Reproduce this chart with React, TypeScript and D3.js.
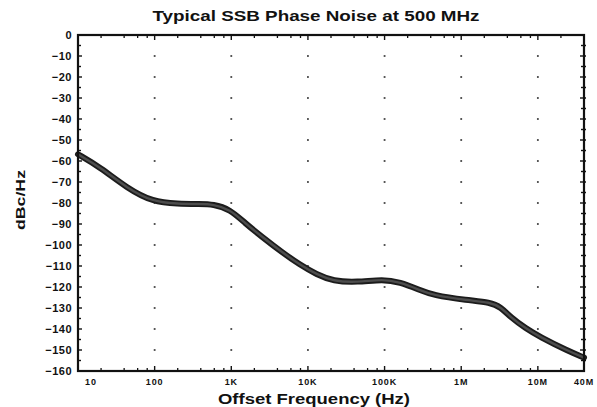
import React from "react";
import * as d3 from "d3";

const W = 597;
const H = 407;

// Phase noise curve
const offsetFreqHz = [10, 19.4, 43.6, 95, 200, 392, 578, 964, 1500, 2600, 4500, 7900, 13000, 21300, 43900, 95900, 160000, 270000, 430000, 1200000, 2390000, 3300000, 4370000, 7000000, 10700000, 24200000, 40000000];
const noiseDbc = [-56.8, -62.9, -72.9, -79.5, -80.4, -80.5, -80.6, -83.0, -89.5, -96.5, -103.2, -109.5, -114.0, -117.2, -117.8, -116.2, -117.8, -121.0, -124.0, -126.3, -127.3, -129.6, -134.3, -139.8, -143.8, -150.3, -153.6];

const xTickValues = [10, 100, 1e3, 1e4, 1e5, 1e6, 1e7, 4e7];
const xTickLabels = ["10", "100", "1K", "10K", "100K", "1M", "10M", "40M"];
const yTickValues = [0, -10, -20, -30, -40, -50, -60, -70, -80, -90, -100, -110, -120, -130, -140, -150, -160];
const gridDecades = [100, 1e3, 1e4, 1e5, 1e6, 1e7];

const TITLE = "Typical SSB Phase Noise at 500 MHz";
const X_TITLE = "Offset Frequency (Hz)";
const Y_TITLE = "dBc/Hz";

export default function App() {
  const left = 78, right = 584, top = 35, bottom = 371;
  const x = d3.scaleLog().domain([10, 4e7]).range([left, right]);
  const y = d3.scaleLinear().domain([0, -160]).range([top, bottom]);

  const pts: [number, number][] = offsetFreqHz.map((f, i) => [x(f), y(noiseDbc[i])]);
  const line = d3.line().curve(d3.curveBasis)(pts) || "";

  // minor log ticks at 2,4,6,8 x decade
  const minor: number[] = [];
  for (let d = 10; d <= 1e7; d *= 10) {
    for (const m of [2, 4, 6, 8]) {
      const v = d * m;
      if (v < 4e7) minor.push(v);
    }
  }
  const yTicks5 = d3.range(-155, 0, 5);

  const font = "'Liberation Sans', Arial, Helvetica, sans-serif";

  return (
    <svg width={W} height={H} style={{ position: "absolute", left: 0, top: 0, background: "#fff" }} fontFamily={font}>
      {/* title */}
      <text x={316} y={21} textAnchor="middle" fontSize={15} fontWeight="bold" fill="#111" textLength={327} lengthAdjust="spacingAndGlyphs">{TITLE}</text>

      {/* dotted grid */}
      {gridDecades.map((f) =>
        yTickValues.filter((v) => v < 0 && v > -160).map((v) => (
          <rect key={`g${f}_${v}`} x={x(f) - 0.9} y={y(v) - 0.9} width={1.8} height={1.8} fill="#444" />
        ))
      )}

      {/* curve */}
      <path d={line} fill="none" stroke="#1c1c1c" strokeWidth={6} strokeLinecap="round" strokeLinejoin="round" />
      <path d={line} fill="none" stroke="#4d4d4d" strokeWidth={2.4} strokeLinecap="round" strokeLinejoin="round" />

      {/* frame */}
      <rect x={left} y={top} width={right - left} height={bottom - top} fill="none" stroke="#111" strokeWidth={2.2} />

      {/* x ticks (top & bottom) */}
      {minor.map((v) => (
        <g key={`mx${v}`}>
          <line x1={x(v)} x2={x(v)} y1={bottom} y2={bottom - 3} stroke="#111" strokeWidth={1.3} />
          <line x1={x(v)} x2={x(v)} y1={top} y2={top + 3} stroke="#111" strokeWidth={1.3} />
        </g>
      ))}
      {gridDecades.map((v) => (
        <g key={`Mx${v}`}>
          <line x1={x(v)} x2={x(v)} y1={bottom} y2={bottom - 5} stroke="#111" strokeWidth={1.4} />
          <line x1={x(v)} x2={x(v)} y1={top} y2={top + 5} stroke="#111" strokeWidth={1.4} />
        </g>
      ))}

      {/* y ticks (left & right) */}
      {yTicks5.map((v) => {
        const major = v % 10 === 0;
        const len = major ? 4 : 3;
        return (
          <g key={`yt${v}`}>
            <line x1={left} x2={left + len} y1={y(v)} y2={y(v)} stroke="#111" strokeWidth={1.4} />
            <line x1={right} x2={right - len} y1={y(v)} y2={y(v)} stroke="#111" strokeWidth={1.4} />
            <line x1={right} x2={right + 2} y1={y(v)} y2={y(v)} stroke="#111" strokeWidth={1.4} />
          </g>
        );
      })}

      {/* y labels */}
      {yTickValues.map((v) => (
        <text key={`yl${v}`} x={72} y={y(v)} dy="0.36em" textAnchor="end" fontSize={11} fontWeight="bold" fill="#111" letterSpacing={0.5}>
          {v === 0 ? "0" : "\u2212" + Math.abs(v)}
        </text>
      ))}

      {/* x labels */}
      {xTickValues.map((v, i) => (
        <text key={`xl${v}`} x={i === 0 ? x(v) + 7 : x(v)} y={385} textAnchor={i === 0 ? "start" : "middle"} fontSize={9} fontWeight="bold" fill="#111" letterSpacing={0.9}>
          {xTickLabels[i]}
        </text>
      ))}

      {/* axis titles */}
      <text x={314} y={404} textAnchor="middle" fontSize={14} fontWeight="bold" fill="#111" textLength={192} lengthAdjust="spacingAndGlyphs">{X_TITLE}</text>
      <text transform="translate(25,200) rotate(-90)" textAnchor="middle" fontSize={13} fontWeight="bold" fill="#111" textLength={60} lengthAdjust="spacingAndGlyphs">{Y_TITLE}</text>
    </svg>
  );
}
